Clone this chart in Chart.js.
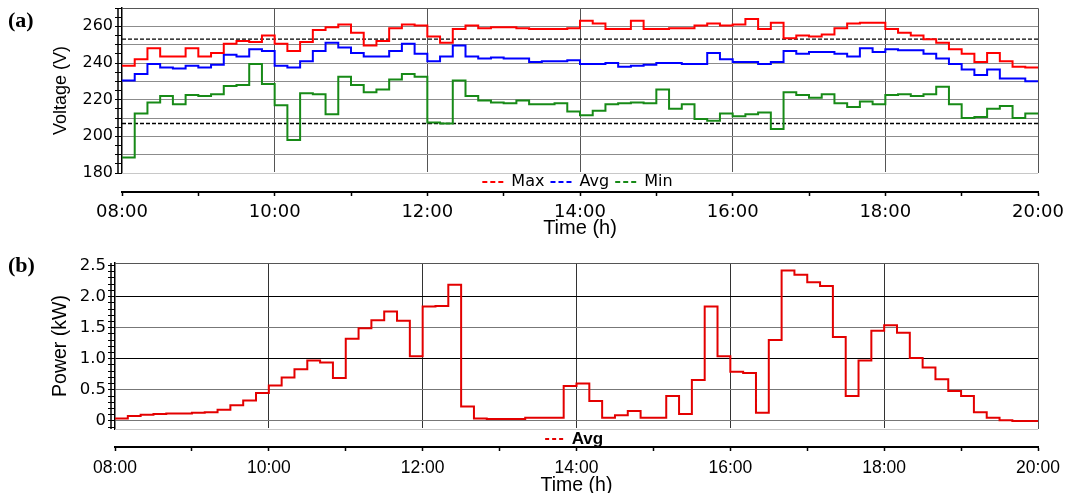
<!DOCTYPE html>
<html>
<head>
<meta charset="utf-8">
<title>Voltage and power profile</title>
<script src="https://cdn.jsdelivr.net/npm/chart.js@4.4.0/dist/chart.umd.min.js"></script>
<style>
    html, body { margin: 0; padding: 0; background: #fff; }
    body { width: 1066px; height: 493px; position: relative; overflow: hidden; }
    .panel { position: absolute; left: 0; width: 1066px; }
    #panelA { top: 0; height: 240px; }
    #panelB { top: 245px; height: 248px; }
    .tag { position: absolute; left: 8px; font: bold 22px 'Liberation Serif', 'Times New Roman', serif; color: #000; }
</style>
</head>
<body>
<div class="panel" id="panelA"><canvas id="voltageChart"></canvas></div>
<div class="panel" id="panelB"><canvas id="powerChart"></canvas></div>
<div class="tag" style="top:7px">(a)</div>
<div class="tag" style="top:252px">(b)</div>
<script>
// 10-minute readings, 08:00 -> 20:00
const startHour = 8;
const slotsPerHour = 6;

const voltageMax = [
    238.5, 242, 248, 243.5, 243.5, 248, 243.5, 245.5, 250.5, 252, 251.5, 255,
    250.5, 246.5, 251.5, 258, 259.5, 261, 256.5, 249.5, 252, 259, 261, 260.5,
    254.5, 251, 258.5, 260.5, 259, 259.5, 259.5, 259, 258.5, 258.5, 258.5, 259,
    263, 261.5, 258.5, 258.5, 263, 258.5, 258.5, 259, 259, 260.5, 261.5, 260.5,
    261, 264, 258.5, 262, 253.5, 255, 254.5, 255.5, 259, 261.5, 262, 262,
    258.5, 256.5, 255, 253, 251, 247.5, 245, 240.5, 245.5, 241, 238, 237.5
];
const voltageAvg = [
    230.5, 234, 239.5, 237.5, 237, 238.5, 237.5, 239, 244.5, 243.5, 247.5, 246.5,
    238.5, 237.5, 241, 246.5, 251, 248.5, 245.5, 243.5, 243.5, 246.5, 250.5, 245,
    241, 243.5, 249.5, 243.5, 242.5, 243, 242.5, 242.5, 240.5, 241, 241, 241.5,
    239.5, 239.5, 240, 238, 238.5, 239, 240, 240, 239.5, 239.5, 245.5, 242,
    240.5, 240.5, 239.5, 240.5, 246.5, 245, 246, 246, 245, 243.5, 248, 246,
    247.5, 247, 247, 245, 242.5, 239.5, 236.5, 233.5, 236.5, 231.5, 231.5, 230
];
const voltageMin = [
    188.5, 212.5, 218.5, 222, 217.5, 222.5, 222, 223, 227.5, 228, 239.5, 228.5,
    217, 198, 223.5, 223, 212, 232.5, 228, 224, 225.5, 231, 234, 232.5,
    207.5, 207, 230.5, 222, 219.5, 218.5, 218, 219.5, 217.5, 217.5, 218, 213.5,
    211.5, 214, 217.5, 218, 218.5, 218, 225.5, 215, 217.5, 209.5, 208.5, 212.5,
    211, 212, 213, 204, 224, 222.5, 221, 223, 218, 216, 219, 217.5,
    222.5, 223, 222, 223, 227, 217.5, 210, 210.5, 215, 216.5, 210, 212.5
];
const limitHigh = 253;
const limitLow = 207;

const powerAvg = [
    0.04, 0.08, 0.1, 0.11, 0.12, 0.12, 0.13, 0.14, 0.18, 0.25, 0.33, 0.45,
    0.57, 0.7, 0.83, 0.97, 0.94, 0.69, 1.32, 1.49, 1.62, 1.76, 1.61, 1.04,
    1.84, 1.85, 2.19, 0.23, 0.04, 0.03, 0.03, 0.03, 0.05, 0.05, 0.05, 0.56,
    0.6, 0.32, 0.05, 0.09, 0.16, 0.05, 0.05, 0.4, 0.11, 0.66, 1.84, 1.04,
    0.79, 0.77, 0.13, 1.3, 2.42, 2.35, 2.23, 2.17, 1.35, 0.4, 0.97, 1.45,
    1.54, 1.42, 1.01, 0.86, 0.67, 0.48, 0.4, 0.14, 0.05, 0.01, 0, 0
];

const labelHours = [8, 10, 12, 14, 16, 18, 20];
const timeLabels = ['08:00', '10:00', '12:00', '14:00', '16:00', '18:00', '20:00'];
const voltTicks = [180, 200, 220, 240, 260];
const powerTicks = [0, 0.5, 1, 1.5, 2, 2.5];
const powerTickLabels = ['0', '0.5', '1.0', '1.5', '2.0', '2.5'];

Chart.defaults.font.family = "'Liberation Sans', Arial, sans-serif";
Chart.defaults.color = '#000';

// each reading holds until the next one, last one runs to 20:00
function stepPoints(values) {
    const pts = values.map((v, i) => ({ x: startHour + i / slotsPerHour, y: v }));
    pts.push({ x: startHour + values.length / slotsPerHour, y: values[values.length - 1] });
    return pts;
}

function series(label, values, color) {
    return {
        label: label,
        data: stepPoints(values),
        borderColor: color,
        backgroundColor: color,
        borderWidth: 2,
        stepped: true,
        pointRadius: 0,
        fill: false
    };
}

function limitLine(value) {
    return {
        label: 'limit',
        data: [{ x: labelHours[0], y: value }, { x: labelHours[labelHours.length - 1], y: value }],
        borderColor: '#000',
        borderWidth: 1.3,
        borderDash: [4, 2],
        pointRadius: 0,
        fill: false
    };
}

const hourLabel = v => {
    const i = labelHours.indexOf(v);
    return i >= 0 ? timeLabels[i] : '';
};
const innerHour = v => labelHours.includes(v) && v > labelHours[0] && v < labelHours[labelHours.length - 1];

function dashedLegend(count, dash) {
    return chart => Chart.defaults.plugins.legend.labels.generateLabels(chart)
        .filter(item => item.datasetIndex < count)
        .map(item => Object.assign(item, { pointStyle: 'line', lineDash: dash, lineWidth: 2, text: item.text + ' ' }));
}

// box round the plot plus the second rule left of it
function plotFrame(gap) {
    return {
        id: 'plotFrame',
        afterDraw(chart) {
            const { ctx, chartArea: { left, top, right, bottom } } = chart;
            ctx.save();
            ctx.lineWidth = 1;
            ctx.strokeStyle = '#555';
            ctx.beginPath();
            ctx.moveTo(left, top + 0.5);
            ctx.lineTo(right + 0.5, top + 0.5);
            ctx.lineTo(right + 0.5, bottom);
            ctx.stroke();
            ctx.strokeStyle = '#c8c8c8';
            ctx.beginPath();
            ctx.moveTo(left, bottom + 0.5);
            ctx.lineTo(right, bottom + 0.5);
            ctx.stroke();
            ctx.strokeStyle = '#000';
            ctx.lineWidth = 1.5;
            ctx.beginPath();
            ctx.moveTo(left - gap, top);
            ctx.lineTo(left - gap, bottom);
            ctx.stroke();
            ctx.restore();
        }
    };
}

// legend sits between plot and time axis, keep it thin
function legendHeight(h) {
    return {
        id: 'legendHeight',
        beforeInit(chart) {
            const fit = chart.legend.fit;
            chart.legend.fit = function () {
                fit.call(this);
                this.height = h;
            };
        }
    };
}

// (a) voltage
new Chart(document.getElementById('voltageChart'), {
    type: 'line',
    data: {
        datasets: [
            series('Max', voltageMax, '#ff0000'),
            series('Avg', voltageAvg, '#0000ff'),
            series('Min', voltageMin, '#178a17'),
            limitLine(limitHigh),
            limitLine(limitLow)
        ]
    },
    options: {
        responsive: true,
        maintainAspectRatio: false,
        animation: false,
        layout: { padding: { top: 8, right: 28, bottom: 0, left: 0 } },
        plugins: {
            tooltip: { enabled: false },
            legend: {
                position: 'bottom',
                fullSize: false,
                labels: {
                    color: '#000',
                    font: { family: 'DejaVu Sans', size: 16 },
                    padding: 1,
                    usePointStyle: true,
                    pointStyleWidth: 21,
                    generateLabels: dashedLegend(3, [5, 3])
                }
            }
        },
        scales: {
            x: {
                type: 'linear',
                min: 8,
                max: 20,
                weight: 2000,
                afterFit(scale) { scale.height = 48; scale.paddingLeft = 0; scale.paddingRight = 0; },
                border: { color: '#000', width: 2 },
                grid: {
                    color: c => innerHour(c.tick.value) ? '#555' : 'rgba(0,0,0,0)',
                    tickColor: '#000',
                    tickLength: 4,
                    tickWidth: 1.5
                },
                ticks: {
                    stepSize: 1,
                    autoSkip: false,
                    maxRotation: 0,
                    padding: 6,
                    font: { family: 'DejaVu Sans', size: 18 },
                    callback: hourLabel
                },
                title: {
                    display: true,
                    text: 'Time (h)',
                    font: { size: 20 },
                    padding: { top: 0, bottom: 0 }
                }
            },
            y: {
                min: 180,
                max: 270,
                afterFit(scale) { scale.width = 122; scale.paddingTop = 0; scale.paddingBottom = 0; },
                border: { color: '#000', width: 1.5 },
                grid: {
                    color: c => c.tick.value % 10 === 0 ? '#8c8c8c' : 'rgba(0,0,0,0)',
                    tickColor: '#000',
                    tickLength: 7
                },
                ticks: {
                    stepSize: 5,
                    autoSkip: false,
                    padding: 2,
                    font: { family: 'DejaVu Sans', size: 16 },
                    callback: v => voltTicks.includes(v) ? String(v) : ''
                },
                title: {
                    display: true,
                    text: 'Voltage (V)',
                    font: { size: 18 },
                    padding: { top: 50, bottom: 0 }
                }
            }
        }
    },
    plugins: [plotFrame(4), legendHeight(19)]
});

// (b) power
new Chart(document.getElementById('powerChart'), {
    type: 'line',
    data: {
        datasets: [series('Avg', powerAvg, '#e30000')]
    },
    options: {
        responsive: true,
        maintainAspectRatio: false,
        animation: false,
        layout: { padding: { top: 18, right: 28, bottom: 0, left: 0 } },
        plugins: {
            tooltip: { enabled: false },
            legend: {
                position: 'bottom',
                fullSize: false,
                labels: {
                    color: '#000',
                    font: { size: 17, weight: 'bold' },
                    padding: 1.5,
                    usePointStyle: true,
                    pointStyleWidth: 18,
                    generateLabels: dashedLegend(1, [4, 3])
                }
            }
        },
        scales: {
            x: {
                type: 'linear',
                min: 8,
                max: 20,
                weight: 2000,
                afterFit(scale) { scale.height = 46; scale.paddingLeft = 0; scale.paddingRight = 0; },
                border: { color: '#000', width: 2 },
                grid: {
                    color: c => innerHour(c.tick.value) ? '#333' : 'rgba(0,0,0,0)',
                    tickColor: '#000',
                    tickLength: 4,
                    tickWidth: 1.5
                },
                ticks: {
                    stepSize: 1,
                    autoSkip: false,
                    maxRotation: 0,
                    padding: 7,
                    font: { size: 17.5 },
                    callback: hourLabel
                },
                title: {
                    display: true,
                    text: 'Time (h)',
                    font: { size: 19.5 },
                    padding: { top: 0, bottom: -4 }
                }
            },
            y: {
                min: -0.13,
                max: 2.54,
                afterFit(scale) { scale.width = 115; scale.paddingTop = 0; scale.paddingBottom = 0; },
                border: { color: '#000', width: 1.5 },
                grid: {
                    color: c => {
                        const i = powerTicks.findIndex(p => Math.abs(p - c.tick.value) < 1e-6);
                        if (i < 0 || i === powerTicks.length - 1) return 'rgba(0,0,0,0)';
                        return Number.isInteger(powerTicks[i]) && powerTicks[i] > 0 ? '#000' : '#777';
                    },
                    tickColor: '#000',
                    tickLength: 7
                },
                ticks: {
                    stepSize: 0.1,
                    includeBounds: false,
                    autoSkip: false,
                    padding: 2,
                    font: { family: 'DejaVu Sans', size: 16.5 },
                    callback: v => {
                        const i = powerTicks.findIndex(p => Math.abs(p - v) < 1e-6);
                        return i >= 0 ? powerTickLabels[i] : '';
                    }
                },
                title: {
                    display: true,
                    text: 'Power (kW)',
                    font: { size: 19.5 },
                    padding: { top: 49, bottom: 0 }
                }
            }
        }
    },
    plugins: [plotFrame(4), legendHeight(18)]
});
</script>
</body>
</html>
